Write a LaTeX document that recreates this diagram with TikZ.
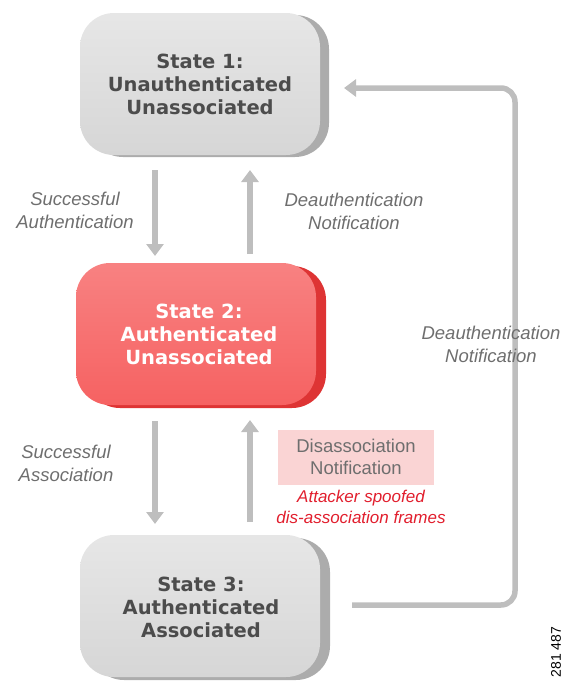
\documentclass[tikz,border=0pt]{standalone}
\usepackage{fontspec}
\setmainfont{Liberation Sans}
\newfontfamily\statefont{DejaVu Sans}
\usetikzlibrary{arrows.meta,shapes.misc}
\definecolor{arrgray}{RGB}{190,190,190}
\definecolor{lblgray}{RGB}{110,110,110}
\definecolor{boxgray}{RGB}{214,214,214}
\definecolor{boxedge}{RGB}{172,172,172}
\definecolor{redface}{RGB}{246,98,98}
\definecolor{rededge}{RGB}{222,52,52}
\definecolor{pinkbox}{RGB}{250,212,212}
\definecolor{attred}{RGB}{225,30,45}
\tikzset{
  statebase/.style={rounded corners=34pt, minimum width=240pt, minimum height=142pt, inner sep=0pt},
  graystate/.style={statebase, top color=boxgray!60!white, bottom color=boxgray, draw=none},
  grayback/.style={statebase, fill=boxedge, draw=none},
  redstate/.style={statebase, top color=redface!80!white, bottom color=redface, draw=none},
  redback/.style={statebase, fill=rededge, draw=none},
  statetext/.style={font=\statefont\fontsize{19.5}{23}\selectfont\bfseries, align=center, text=black!70},
  statetextw/.style={font=\statefont\fontsize{19.5}{23}\selectfont\bfseries, align=center, text=white},
  lbl/.style={font=\fontsize{18.5}{23}\selectfont\itshape, align=center, text=lblgray},
  flow/.style={draw=arrgray, line width=5.5pt, -{Triangle[width=17pt,length=12pt]}},
}
\begin{document}
\begin{tikzpicture}[x=1pt,y=-1pt]
\useasboundingbox (0,0) rectangle (567,681);
% State 1
\node[grayback] (s1b) at (209,86) {};
\node[graystate] (s1) at (200,84) {};
\node[statetext] (s1t) at (200,84) {State 1:\\Unauthenticated\\Unassociated};
% State 2
\node[redback] (s2b) at (206,337) {};
\node[redstate] (s2) at (196,334) {};
\node[statetextw] (s2t) at (199,334) {State 2:\\Authenticated\\Unassociated};
% State 3
\node[grayback] (s3b) at (210,609) {};
\node[graystate] (s3) at (200,606) {};
\node[statetext] (s3t) at (201,607) {State 3:\\Authenticated\\Associated};
% vertical arrows
\coordinate (a1s) at (155,170); \coordinate (a1e) at (155,256);
\coordinate (a2s) at (250,254); \coordinate (a2e) at (250,170);
\coordinate (a3s) at (155,421); \coordinate (a3e) at (155,524);
\coordinate (a4s) at (250,522); \coordinate (a4e) at (250,420);
\draw[flow] (a1s) -- (a1e);
\draw[flow] (a2s) -- (a2e);
\draw[flow] (a3s) -- (a3e);
\draw[flow] (a4s) -- (a4e);
% loop arrow
\coordinate (ls) at (352,605);
\coordinate (le) at (344,88);
\draw[flow, rounded corners=14pt] (ls) -- (515,605) -- (515,88) -- (le);
% labels
\node[lbl] (l1) at (75,210) {Successful\\Authentication};
\node[lbl] (l2) at (354,211) {Deauthentication\\Notification};
\node[lbl] (l3) at (491,344) {Deauthentication\\Notification};
\node[lbl] (l4) at (66,463) {Successful\\Association};
\node[fill=pinkbox, minimum width=156pt, minimum height=55pt, inner sep=0pt] (pb) at (356,457) {};
\node[font=\fontsize{18.5}{22}\selectfont, align=center, text=lblgray] (l5) at (pb) {Disassociation\\Notification};
\node[font=\fontsize{17}{21}\selectfont\itshape, align=center, text=attred] (l6) at (361,507) {Attacker spoofed\\dis-association frames};
\node[rotate=90, font=\fontsize{14}{16}\selectfont] (num) at (556,652) {281 487};
\end{tikzpicture}
\end{document}
